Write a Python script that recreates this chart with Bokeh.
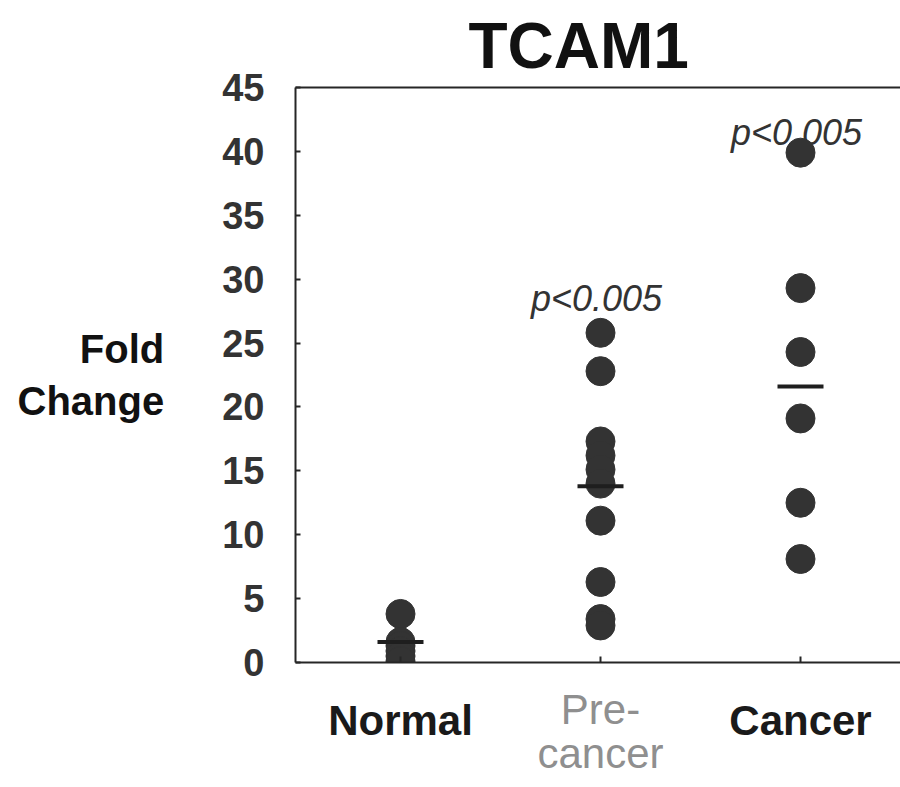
from bokeh.plotting import figure
from bokeh.models import Range1d, FixedTicker, LinearAxis, Label
from bokeh.embed import file_html
from bokeh.resources import INLINE

# ---- data ----
categories = ["Normal", "Pre-\ncancer", "Cancer"]
normal_vals = [3.8, 1.6, 1.3, 0.9, 0.5, 0.1]
precancer_vals = [25.8, 22.8, 17.3, 16.2, 15.1, 14.0, 11.1, 6.3, 3.4, 2.9]
cancer_vals = [39.9, 29.3, 24.3, 19.1, 12.5, 8.1]
group_means = [1.6, 13.8, 21.6]
y_ticks = [0, 5, 10, 15, 20, 25, 30, 35, 40, 45]
p_labels = ["", "p<0.005", "p<0.005"]
title_text = "TCAM1"
y_label_text = "Fold\nChange"

groups = [normal_vals, precancer_vals, cancer_vals]
positions = [1, 2, 3]

# ---- layout geometry (pixels) ----
W, H = 900, 787
LEFT, RIGHT, TOP, BOTTOM = 295, 900, 87, 662
X0, X1 = 0.475, 3.5
Y0, Y1 = 0, 45

def dy(py):
    return Y0 + (BOTTOM - py) * (Y1 - Y0) / (BOTTOM - TOP)

FONT = "Liberation Sans"
INK = "#262626"

p = figure(width=W, height=H, x_range=Range1d(X0, X1), y_range=Range1d(Y0, Y1),
           output_backend="svg", toolbar_location=None,
           min_border_left=LEFT, min_border_right=W - RIGHT,
           min_border_top=TOP, min_border_bottom=H - BOTTOM)
p.outline_line_color = None
p.grid.visible = False
p.background_fill_color = "white"
p.border_fill_color = "white"

# title
p.title.text = title_text
p.title.text_font = FONT
p.title.text_font_style = "bold"
p.title.text_font_size = "64px"
p.title.text_color = "#111111"
p.title.align = "left"
p.title.offset = 173
p.title.standoff = 12

# y axis
ya = p.yaxis[0]
ya.ticker = FixedTicker(ticks=y_ticks)
ya.major_tick_in = 5
ya.major_tick_out = 0
ya.minor_tick_line_color = None
ya.axis_line_width = 2
ya.axis_line_color = INK
ya.major_tick_line_color = INK
ya.major_tick_line_width = 2
ya.major_label_text_font = FONT
ya.major_label_text_font_style = "bold"
ya.major_label_text_font_size = "38px"
ya.major_label_text_color = "#333333"
ya.major_label_standoff = 31
ya.axis_label = y_label_text
ya.axis_label_orientation = "horizontal"
ya.axis_label_text_font = FONT
ya.axis_label_text_font_style = "bold"
ya.axis_label_text_font_size = "40px"
ya.axis_label_text_color = "#111111"
ya.axis_label_text_line_height = 1.2
ya.axis_label_standoff = 55

# x axis A: Normal / Cancer (bold), with a minor tick at Pre-cancer
xa = p.xaxis[0]
xa.ticker = FixedTicker(ticks=[positions[0], positions[2]], minor_ticks=[positions[1]])
xa.major_label_overrides = {positions[0]: categories[0], positions[2]: categories[2]}
xa.major_tick_in = 6
xa.major_tick_out = 0
xa.minor_tick_in = 6
xa.minor_tick_out = 0
xa.minor_tick_line_width = 2
xa.minor_tick_line_color = INK
xa.axis_line_width = 2
xa.axis_line_color = INK
xa.major_tick_line_color = INK
xa.major_tick_line_width = 2
xa.major_label_text_font = FONT
xa.major_label_text_font_style = "bold"
xa.major_label_text_font_size = "42px"
xa.major_label_text_color = "#1a1a1a"
xa.major_label_standoff = 34

# x axis B: Pre-cancer (regular, grey)
xb = LinearAxis(ticker=FixedTicker(ticks=[positions[1]]),
                major_label_overrides={positions[1]: categories[1]},
                axis_line_color=None, major_tick_line_color=None,
                minor_tick_line_color=None, major_tick_in=0, major_tick_out=0,
                major_label_text_font=FONT, major_label_text_font_style="normal",
                major_label_text_font_size="42px", major_label_text_color="#8f8f8f",
                major_label_text_line_height=0.95,
                major_label_standoff=-61)
p.add_layout(xb, "below")

# top border line
top = LinearAxis(ticker=FixedTicker(ticks=[]), axis_line_width=2, axis_line_color=INK,
                 major_label_text_color=None, major_tick_line_color=None,
                 minor_tick_line_color=None, major_tick_in=0, major_tick_out=0)
p.add_layout(top, "above")

# dots
xs, ys = [], []
for pos, vals in zip(positions, groups):
    xs += [pos] * len(vals)
    ys += vals
p.scatter(xs, ys, size=29, color="#333333", line_color="#333333")

# mean lines
half = 0.115
p.segment(x0=[pos - half for pos in positions], x1=[pos + half for pos in positions],
          y0=group_means, y1=group_means, line_width=4, line_color="#1e1e1e")

# p-value labels
p_label_px = [None, 298, 132]
for pos, txt, py in zip(positions, p_labels, p_label_px):
    if txt:
        p.add_layout(Label(x=pos - 0.02, y=dy(py), text=txt,
                           text_font=FONT, text_font_style="italic",
                           text_font_size="36px", text_color="#333333",
                           text_align="center", text_baseline="alphabetic"))

open("out.html", "w").write(file_html(p, INLINE))
